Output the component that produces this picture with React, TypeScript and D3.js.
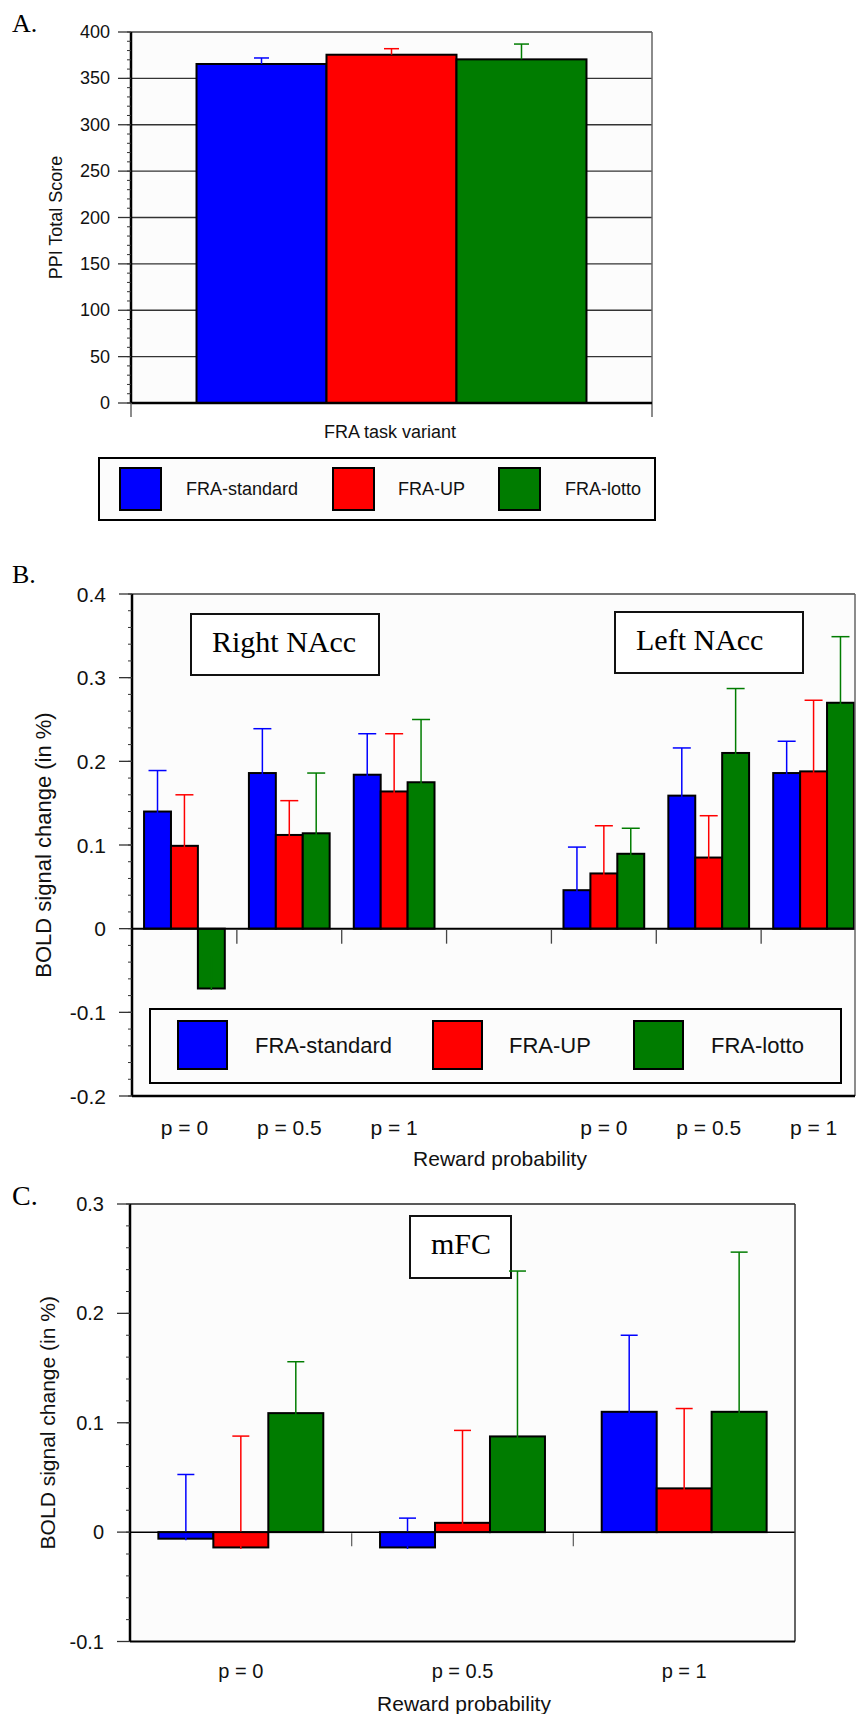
import React from 'react';
import * as d3 from 'd3';

// ---------- shared ----------
const SERIES = ['FRA-standard', 'FRA-UP', 'FRA-lotto'];
const COLORS = ['#0000ff', '#ff0000', '#007c00'];

// ---------- Panel A ----------
const ppiCategory = ['FRA task variant'];
const ppiMean = [365.5, 375.5, 370.5];
const ppiErr = [6.5, 6.5, 16.5];
const ppiTicks = [0, 50, 100, 150, 200, 250, 300, 350, 400];

// ---------- Panel B ----------
const nacSlots = ['R0', 'R05', 'R1', 'gap', 'L0', 'L05', 'L1'];
const nacLabels = ['p = 0', 'p = 0.5', 'p = 1', '', 'p = 0', 'p = 0.5', 'p = 1'];
const nacStandard = [0.14, 0.186, 0.184, null, 0.046, 0.159, 0.186];
const nacUP = [0.099, 0.112, 0.164, null, 0.066, 0.085, 0.188];
const nacLotto = [-0.0715, 0.114, 0.175, null, 0.0895, 0.21, 0.27];
const nacStandardErr = [0.049, 0.053, 0.049, null, 0.0515, 0.057, 0.038];
const nacUPErr = [0.061, 0.041, 0.069, null, 0.057, 0.05, 0.085];
const nacLottoErr = [0.04, 0.072, 0.075, null, 0.0305, 0.077, 0.079];
const nacTicks = [-0.2, -0.1, 0, 0.1, 0.2, 0.3, 0.4];

// ---------- Panel C ----------
const mfcSlots = ['p = 0', 'p = 0.5', 'p = 1'];
const mfcStandard = [-0.006, -0.014, 0.11];
const mfcUP = [-0.014, 0.0085, 0.04];
const mfcLotto = [0.1088, 0.0875, 0.11];
const mfcStandardErr = [0.0587, 0.0268, 0.07];
const mfcUPErr = [0.1018, 0.0845, 0.073];
const mfcLottoErr = [0.047, 0.1512, 0.146];
const mfcTicks = [-0.1, 0, 0.1, 0.2, 0.3];

const SANS = '"Liberation Sans", Arial, Helvetica, sans-serif';
const SERIF = '"Liberation Serif", "Times New Roman", serif';

const fmt = (v: number) => (Math.abs(v) < 1e-9 ? '0' : String(+v.toFixed(1)));

type Vals = (number | null)[];

function Bars({ x, y, slots, values, errs, capW }: any) {
  const inner = d3.scaleBand<string>().domain(SERIES).range([0, x.bandwidth()]);
  const y0 = y(0);
  const out: any[] = [];
  const errOut: any[] = [];
  (values as Vals[]).forEach((vals, si) => {
    vals.forEach((v, i) => {
      if (v === null) return;
      const bx = (x(slots[i]) as number) + (inner(SERIES[si]) as number);
      const bw = inner.bandwidth();
      const yv = y(v);
      out.push(
        <rect key={`b${si}-${i}`} x={bx} y={Math.min(yv, y0)} width={bw} height={Math.abs(y0 - yv)}
          fill={COLORS[si]} stroke="#000" strokeWidth={2} />
      );
      const e = (errs as Vals[])[si][i] as number;
      const ye = y(v + e);
      const cx = bx + bw / 2;
      errOut.push(
        <g key={`e${si}-${i}`} stroke={COLORS[si]} strokeWidth={1.5}>
          <line x1={cx} x2={cx} y1={yv + 1.5} y2={ye} />
          <line x1={cx - capW / 2} x2={cx + capW / 2} y1={ye} y2={ye} />
        </g>
      );
    });
  });
  return <g>{out}{errOut}</g>;
}

function YAxis({ y, left, ticks, minor, fontSize, labelX }: any) {
  return (
    <g>
      {minor.map((m: number, i: number) => (
        <line key={`m${i}`} x1={left - 4} x2={left} y1={y(m)} y2={y(m)} stroke="#333" strokeWidth={1} />
      ))}
      {ticks.map((t: number, i: number) => (
        <g key={`t${i}`}>
          <line x1={left - 13} x2={left} y1={y(t)} y2={y(t)} stroke="#333" strokeWidth={1.3} />
          <text x={labelX} y={y(t)} textAnchor="end" dominantBaseline="central"
            fontFamily={SANS} fontSize={fontSize} fill="#111">{fmt(t)}</text>
        </g>
      ))}
    </g>
  );
}

function Legend({ box, items, fontSize }: any) {
  return (
    <g>
      <rect x={box.x} y={box.y} width={box.w} height={box.h} fill="#fcfcfc" stroke="#000" strokeWidth={2} />
      {items.map((it: any, i: number) => (
        <g key={i}>
          <rect x={it.sx} y={it.sy} width={it.sw} height={it.sh} fill={COLORS[i]} stroke="#000" strokeWidth={2} />
          <text x={it.tx} y={it.sy + it.sh / 2} dominantBaseline="central" fontFamily={SANS}
            fontSize={fontSize} fill="#111">{SERIES[i]}</text>
        </g>
      ))}
    </g>
  );
}

export default function App() {
  // ---------- Panel A geometry ----------
  const aL = 131, aR = 652, aT = 32, aB = 403;
  const xA = d3.scaleBand<string>().domain(ppiCategory).range([aL, aR]).paddingInner(0).paddingOuter(0.168);
  const yA = d3.scaleLinear().domain([0, 400]).range([aB, aT]);
  const innerA = d3.scaleBand<string>().domain(SERIES).range([0, xA.bandwidth()]);
  const minorA = d3.range(0, 401, 10);

  // ---------- Panel B geometry ----------
  const bL = 132, bR = 855, bT = 594, bB = 1096;
  const xB = d3.scaleBand<string>().domain(nacSlots).range([bL, 866]).paddingInner(0.23).paddingOuter(0.115);
  const yB = d3.scaleLinear().domain([-0.2, 0.4]).range([bB, bT]);
  const minorB = d3.range(-0.2, 0.4001, 0.02);

  // ---------- Panel C geometry ----------
  const cL = 130, cR = 795, cT = 1204, cB = 1641.5;
  const xC = d3.scaleBand<string>().domain(mfcSlots).range([cL, cR]).paddingInner(0.256).paddingOuter(0.128);
  const yC = d3.scaleLinear().domain([-0.1, 0.3]).range([cB, cT]);
  const minorC = d3.range(-0.1, 0.3001, 0.02);

  const stepB = xB.step();
  const stepC = xC.step();

  return (
    <svg width={856} height={1714} style={{ position: 'absolute', left: 0, top: 0, background: '#fff' }}>
      {/* ================= Panel A ================= */}
      <text x={12} y={32} fontFamily={SERIF} fontSize={26} fill="#000">A.</text>
      <rect x={aL} y={aT} width={aR - aL} height={aB - aT} fill="#fcfcfc" />
      {ppiTicks.filter((t) => t > 0 && t < 400).map((t) => (
        <line key={t} x1={aL} x2={aR} y1={yA(t)} y2={yA(t)} stroke="#333" strokeWidth={1.3} />
      ))}
      {SERIES.map((s, i) => {
        const bx = (xA(ppiCategory[0]) as number) + (innerA(s) as number);
        const bw = innerA.bandwidth();
        const cx = bx + bw / 2;
        const ye = yA(ppiMean[i] + ppiErr[i]);
        return (
          <g key={s}>
            <rect x={bx} y={yA(ppiMean[i])} width={bw} height={yA(0) - yA(ppiMean[i])}
              fill={COLORS[i]} stroke="#000" strokeWidth={2} />
            <g stroke={COLORS[i]} strokeWidth={1.5}>
              <line x1={cx} x2={cx} y1={yA(ppiMean[i])} y2={ye} />
              <line x1={cx - 7.5} x2={cx + 7.5} y1={ye} y2={ye} />
            </g>
          </g>
        );
      })}
      <line x1={aL} x2={aR} y1={aT} y2={aT} stroke="#444" strokeWidth={1.5} />
      <line x1={aR} x2={aR} y1={aT} y2={aB + 14} stroke="#666" strokeWidth={1.5} />
      <line x1={aL} x2={aR} y1={aB} y2={aB} stroke="#000" strokeWidth={2.5} />
      <line x1={aL} x2={aL} y1={aT} y2={aB} stroke="#000" strokeWidth={2.5} />
      <line x1={aL} x2={aL} y1={aB} y2={aB + 14} stroke="#666" strokeWidth={1.5} />
      <YAxis y={yA} left={aL} ticks={ppiTicks} minor={minorA} fontSize={18} labelX={110} />
      <text transform={`translate(56,${(aT + aB) / 2}) rotate(-90)`} textAnchor="middle" dominantBaseline="central"
        fontFamily={SANS} fontSize={18} fill="#111">PPI Total Score</text>
      <text x={390} y={432} textAnchor="middle" dominantBaseline="central" fontFamily={SANS} fontSize={18}
        fill="#111">FRA task variant</text>
      <Legend box={{ x: 99, y: 458, w: 556, h: 62 }} fontSize={18}
        items={[
          { sx: 120, sy: 468, sw: 41, sh: 42, tx: 186 },
          { sx: 333, sy: 468, sw: 41, sh: 42, tx: 398 },
          { sx: 499, sy: 468, sw: 41, sh: 42, tx: 565 },
        ]} />

      {/* ================= Panel B ================= */}
      <text x={12} y={583} fontFamily={SERIF} fontSize={26} fill="#000">B.</text>
      <rect x={bL} y={bT} width={bR - bL} height={bB - bT} fill="#fcfcfc" />
      <rect x={191} y={614} width={188} height={61} fill="#fff" stroke="#111" strokeWidth={2} />
      <text x={212} y={652} fontFamily={SERIF} fontSize={30} fill="#000">Right NAcc</text>
      <rect x={615} y={612} width={188} height={61} fill="#fff" stroke="#111" strokeWidth={2} />
      <text x={636} y={650} fontFamily={SERIF} fontSize={30} fill="#000">Left NAcc</text>
      <Bars x={xB} y={yB} slots={nacSlots} values={[nacStandard, nacUP, nacLotto]}
        errs={[nacStandardErr, nacUPErr, nacLottoErr]} capW={18} />
      <line x1={bL} x2={bR} y1={yB(0)} y2={yB(0)} stroke="#000" strokeWidth={2} />
      {nacSlots.slice(1).map((s, i) => {
        const xb = bL + (i + 1) * stepB;
        return <line key={s} x1={xb} x2={xb} y1={yB(0) + 1} y2={yB(0) + 15} stroke="#444" strokeWidth={1.3} />;
      })}
      <line x1={bL} x2={bR} y1={bT} y2={bT} stroke="#444" strokeWidth={1.5} />
      <line x1={bR} x2={bR} y1={bT} y2={bB} stroke="#666" strokeWidth={1.5} />
      <line x1={bL} x2={bR} y1={bB} y2={bB} stroke="#000" strokeWidth={2.5} />
      <line x1={bL} x2={bL} y1={bT} y2={bB} stroke="#000" strokeWidth={2.5} />
      <YAxis y={yB} left={bL} ticks={nacTicks} minor={minorB} fontSize={21} labelX={106} />
      <text transform={`translate(43,${(bT + bB) / 2}) rotate(-90)`} textAnchor="middle" dominantBaseline="central"
        fontFamily={SANS} fontSize={22} fill="#111">BOLD signal change (in %)</text>
      <Legend box={{ x: 150, y: 1009, w: 691, h: 74 }} fontSize={22}
        items={[
          { sx: 178, sy: 1021, sw: 49, sh: 48, tx: 255 },
          { sx: 433, sy: 1021, sw: 49, sh: 48, tx: 509 },
          { sx: 634, sy: 1021, sw: 49, sh: 48, tx: 711 },
        ]} />
      {nacSlots.map((s, i) => (
        <text key={s} x={(xB(s) as number) + xB.bandwidth() / 2} y={1127} textAnchor="middle"
          dominantBaseline="central" fontFamily={SANS} fontSize={21} fill="#111">{nacLabels[i]}</text>
      ))}
      <text x={500} y={1158} textAnchor="middle" dominantBaseline="central" fontFamily={SANS} fontSize={21}
        fill="#111">Reward probability</text>

      {/* ================= Panel C ================= */}
      <text x={12} y={1205} fontFamily={SERIF} fontSize={28} fill="#000">C.</text>
      <rect x={cL} y={cT} width={cR - cL} height={cB - cT} fill="#fcfcfc" />
      <rect x={410} y={1216} width={101} height={62} fill="#fff" stroke="#111" strokeWidth={2} />
      <text x={431} y={1254} fontFamily={SERIF} fontSize={30} fill="#000">mFC</text>
      <Bars x={xC} y={yC} slots={mfcSlots} values={[mfcStandard, mfcUP, mfcLotto]}
        errs={[mfcStandardErr, mfcUPErr, mfcLottoErr]} capW={17} />
      <line x1={cL} x2={cR} y1={yC(0)} y2={yC(0)} stroke="#000" strokeWidth={1.5} />
      {mfcSlots.slice(1).map((s, i) => {
        const xb = cL + (i + 1) * stepC;
        return <line key={s} x1={xb} x2={xb} y1={yC(0) + 1} y2={yC(0) + 14} stroke="#666" strokeWidth={1.3} />;
      })}
      <line x1={cL} x2={cR} y1={cT} y2={cT} stroke="#222" strokeWidth={1.5} />
      <line x1={cR} x2={cR} y1={cT} y2={cB} stroke="#333" strokeWidth={1.5} />
      <line x1={cL} x2={cR} y1={cB} y2={cB} stroke="#000" strokeWidth={2} />
      <line x1={cL} x2={cL} y1={cT} y2={cB} stroke="#000" strokeWidth={2.5} />
      <YAxis y={yC} left={cL} ticks={mfcTicks} minor={minorC} fontSize={20} labelX={104} />
      <text transform={`translate(47,${(cT + cB) / 2}) rotate(-90)`} textAnchor="middle" dominantBaseline="central"
        fontFamily={SANS} fontSize={21} fill="#111">BOLD signal change (in %)</text>
      {mfcSlots.map((s) => (
        <text key={s} x={(xC(s) as number) + xC.bandwidth() / 2} y={1671} textAnchor="middle"
          dominantBaseline="central" fontFamily={SANS} fontSize={20} fill="#111">{s}</text>
      ))}
      <text x={464} y={1703} textAnchor="middle" dominantBaseline="central" fontFamily={SANS} fontSize={21}
        fill="#111">Reward probability</text>
    </svg>
  );
}
